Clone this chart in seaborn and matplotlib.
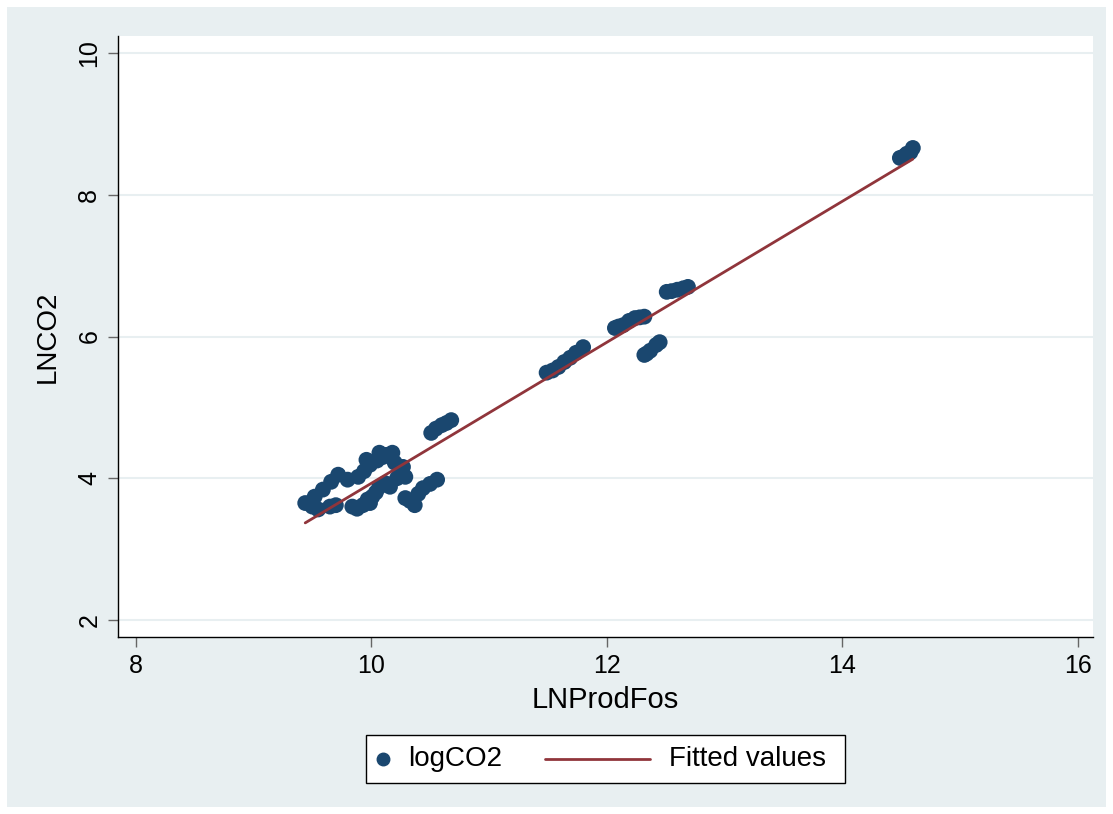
import numpy as np
import pandas as pd
import seaborn as sns
import matplotlib.pyplot as plt
from matplotlib.patches import Rectangle
from matplotlib.lines import Line2D

# 数据 (从图上读出来的估计值)
ln_prod_fos = [9.44, 9.52, 9.59, 9.66, 9.72, 9.80, 9.89, 9.94, 9.99, 10.05, 10.10, 10.13,
               9.50, 9.55, 9.65, 9.70,
               9.84, 9.88, 9.93, 9.97, 9.99, 10.01, 10.04, 10.07, 10.12, 10.16,
               9.96, 10.07, 10.18, 10.20, 10.22, 10.25, 10.27, 10.29,
               10.29, 10.33, 10.37, 10.40, 10.44, 10.50, 10.56,
               10.51, 10.55, 10.60, 10.64, 10.68,
               11.49, 11.54, 11.59, 11.64, 11.69, 11.74, 11.80,
               12.07, 12.10, 12.14, 12.19, 12.24, 12.28, 12.32,
               12.32, 12.34, 12.37, 12.42, 12.45,
               12.51, 12.55, 12.60, 12.65, 12.69,
               14.49, 14.53, 14.55, 14.58, 14.60]
log_co2 = [3.65, 3.74, 3.84, 3.95, 4.05, 3.98, 4.02, 4.10, 4.19, 4.25, 4.30, 4.33,
           3.60, 3.56, 3.60, 3.62,
           3.60, 3.57, 3.62, 3.70, 3.65, 3.74, 3.80, 3.88, 3.93, 3.88,
           4.26, 4.36, 4.36, 4.22, 4.00, 4.08, 4.16, 4.02,
           3.72, 3.68, 3.62, 3.78, 3.86, 3.92, 3.98,
           4.64, 4.70, 4.75, 4.78, 4.82,
           5.49, 5.52, 5.57, 5.64, 5.70, 5.77, 5.85,
           6.12, 6.14, 6.16, 6.22, 6.26, 6.27, 6.28,
           5.74, 5.76, 5.80, 5.88, 5.92,
           6.63, 6.64, 6.66, 6.68, 6.70,
           8.52, 8.55, 8.58, 8.60, 8.66]
x_ticks = [8, 10, 12, 14, 16]
y_ticks = [2, 4, 6, 8, 10]
legend_labels = ['logCO2', 'Fitted values']

df = pd.DataFrame({'LNProdFos': ln_prod_fos, 'logCO2': log_co2})
b, a = np.polyfit(df['LNProdFos'], df['logCO2'], 1)
fit = pd.DataFrame({'x': [df['LNProdFos'].min(), df['LNProdFos'].max()]})
fit['y'] = a + b * fit['x']

navy = '#1a476f'
maroon = '#90353b'
bg = '#e8eff1'
W, H = 1113, 814

sns.set_theme(style='white')
plt.rcParams['font.family'] = ['Liberation Sans', 'DejaVu Sans']
plt.rcParams['text.color'] = 'black'
plt.rcParams['axes.labelcolor'] = 'black'
plt.rcParams['xtick.color'] = 'black'
plt.rcParams['ytick.color'] = 'black'

fig = plt.figure(figsize=(W / 100, H / 100), dpi=100)
fig.patch.set_facecolor('white')
fig.patches.append(Rectangle((7 / W, 7 / H), 1099 / W, 800 / H,
                             transform=fig.transFigure, facecolor=bg,
                             edgecolor='none', zorder=-1))
ax = fig.add_axes([118 / W, 1 - 637 / H, 975 / W, 601 / H])
ax.set_facecolor('white')

for yv in y_ticks:
    ax.axhline(yv, color=bg, lw=1.5, zorder=0)

sns.scatterplot(data=df, x='LNProdFos', y='logCO2', color=navy, s=130,
                edgecolor='none', ax=ax, zorder=3, legend=False)
sns.lineplot(data=fit, x='x', y='y', color=maroon, lw=2, ax=ax, zorder=4)

ax.set_xlim(7.85, 16.13)
ax.set_ylim(1.76, 10.24)
ax.set_xticks(x_ticks)
ax.set_yticks(y_ticks)
ax.set_yticklabels([str(v) for v in y_ticks], rotation=90, va='center')
ax.tick_params(axis='both', labelsize=18, length=7, width=1, color='#666666',
               labelcolor='black', direction='out', bottom=True, left=True, pad=5)
for s in ['top', 'right']:
    ax.spines[s].set_visible(False)
for s in ['left', 'bottom']:
    ax.spines[s].set_color('black')
    ax.spines[s].set_linewidth(1)
ax.set_xlabel('LNProdFos', fontsize=21, labelpad=6)
ax.set_ylabel('LNCO2', fontsize=20, labelpad=12)

# 图例 (手动画, 跟原图一样的位置)
fig.patches.append(Rectangle((366 / W, 1 - 783 / H), 479 / W, 48 / H,
                             transform=fig.transFigure, facecolor='white',
                             edgecolor='black', lw=1, zorder=2))
ly = 1 - 759 / H
fig.add_artist(Line2D([383 / W], [ly], marker='o', color=navy, markersize=9,
                      ls='none', transform=fig.transFigure, zorder=3))
fig.text(408 / W, ly, legend_labels[0], fontsize=20, va='center', ha='left', zorder=3)
fig.add_artist(Line2D([545 / W, 650 / W], [ly, ly], color=maroon, lw=2,
                      transform=fig.transFigure, zorder=3))
fig.text(669 / W, ly, legend_labels[1], fontsize=20, va='center', ha='left', zorder=3)

plt.savefig('out.png', dpi=100, facecolor=fig.get_facecolor())
